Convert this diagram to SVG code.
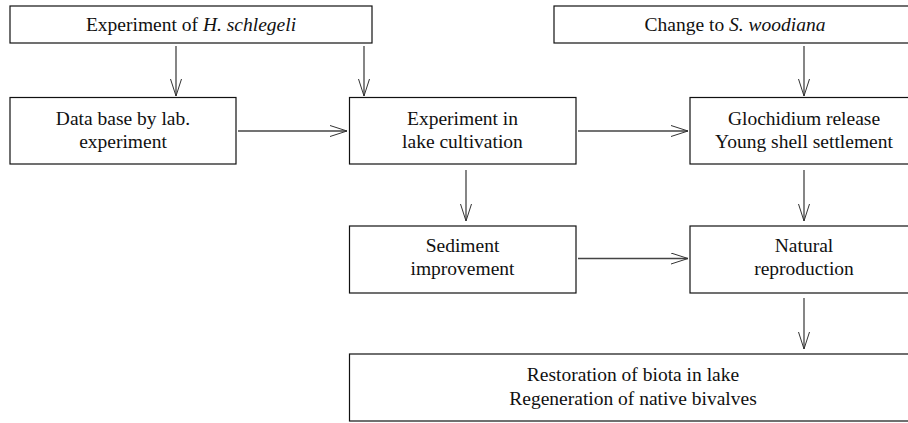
<svg xmlns="http://www.w3.org/2000/svg" width="908" height="423" viewBox="0 0 908 423">
<defs>
<marker id="arr" markerWidth="20" markerHeight="14" refX="17" refY="6" orient="auto" markerUnits="userSpaceOnUse">
<path d="M0,0.5 L17,6 L0,11.5" fill="none" stroke="#333" stroke-width="1"/>
</marker>
<style>
.box{fill:#fff;stroke:#111;stroke-width:1.2}
.t{font-family:"Liberation Serif","Times New Roman",serif;font-size:19.5px;fill:#111;text-anchor:middle}
.c{stroke:#444;stroke-width:1.3;fill:none;marker-end:url(#arr)}
</style>
</defs>
<rect width="908" height="423" fill="#fff"/>
<g id="connectors">
<line class="c" x1="176" y1="46" x2="176" y2="96"/>
<line class="c" x1="364" y1="46" x2="364" y2="96"/>
<line class="c" x1="804" y1="46" x2="804" y2="96"/>
<line class="c" x1="238" y1="131" x2="347" y2="131"/>
<line class="c" x1="578" y1="131" x2="688" y2="131"/>
<line class="c" x1="466" y1="170" x2="466" y2="221"/>
<line class="c" x1="804" y1="170" x2="804" y2="221"/>
<line class="c" x1="578" y1="258.5" x2="688" y2="258.5"/>
<line class="c" x1="804" y1="298" x2="804" y2="349"/>
</g>
<g id="n1">
<rect class="box" x="10" y="6" width="362" height="37"/>
<text class="t" x="191" y="31">Experiment of <tspan font-style="italic">H. schlegeli</tspan></text>
</g>
<g id="n2">
<rect class="box" x="554" y="6" width="364" height="37"/>
<text class="t" x="735" y="31">Change to <tspan font-style="italic">S. woodiana</tspan></text>
</g>
<g id="n3">
<rect class="box" x="10" y="97.5" width="226" height="66.5"/>
<text class="t" x="123" y="124.5">Data base by lab.</text>
<text class="t" x="123" y="147.5">experiment</text>
</g>
<g id="n4">
<rect class="box" x="349.5" y="97.5" width="226.5" height="66.5"/>
<text class="t" x="462.5" y="124.5">Experiment in</text>
<text class="t" x="462.5" y="147.5">lake cultivation</text>
</g>
<g id="n5">
<rect class="box" x="690" y="97.5" width="228" height="66.5"/>
<text class="t" x="804" y="124.5">Glochidium release</text>
<text class="t" x="804" y="147.5">Young shell settlement</text>
</g>
<g id="n6">
<rect class="box" x="349.5" y="226" width="226.5" height="67"/>
<text class="t" x="462.5" y="252">Sediment</text>
<text class="t" x="462.5" y="275">improvement</text>
</g>
<g id="n7">
<rect class="box" x="690" y="226" width="228" height="67"/>
<text class="t" x="804" y="252">Natural</text>
<text class="t" x="804" y="275">reproduction</text>
</g>
<g id="n8">
<rect class="box" x="349.5" y="354" width="568.5" height="67"/>
<text class="t" x="633" y="381">Restoration of biota in lake</text>
<text class="t" x="633" y="404.5">Regeneration of native bivalves</text>
</g>
</svg>
